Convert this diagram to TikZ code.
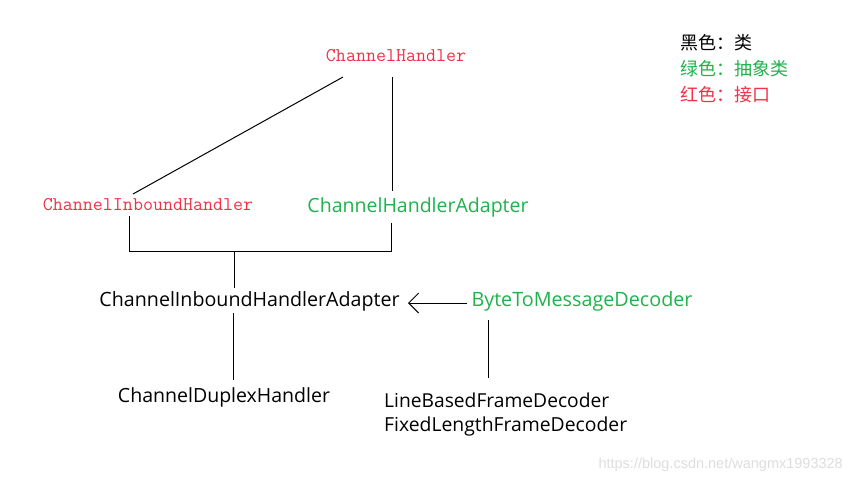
\documentclass[tikz,border=0pt]{standalone}
\usepackage{fontspec}
\usetikzlibrary{arrows.meta}
\setmainfont{Open Sans}
\setmonofont{Latin Modern Mono}
\newfontfamily\cjkfam{Noto Sans CJK SC}
\newfontfamily\wmfam{Liberation Sans}
\definecolor{cred}{RGB}{242,48,72}
\definecolor{cgreen}{RGB}{34,177,76}
\definecolor{cwm}{RGB}{222,222,222}
\newcommand{\fitw}[2]{\resizebox{#1pt}{!}{#2}}
\begin{document}
\begin{tikzpicture}[x=1pt,y=-1pt,
  lbl/.style={inner sep=0pt, anchor=center},
  mono/.style={lbl, font=\ttfamily\fontsize{18}{20}\selectfont},
  sans/.style={lbl, font=\fontsize{18}{20}\selectfont},
  cjk/.style={inner sep=0pt, anchor=west, font=\cjkfam\fontsize{18}{20}\selectfont},
  conn/.style={line width=1pt, black},
  arr/.style={conn, -{Straight Barb[length=10pt,width=20pt,line width=1pt]}}
]
\useasboundingbox[fill=white] (0,0) rectangle (853,483);

% nodes
\node[mono, text=cred] (ch) at (396,56) {\fitw{140}{ChannelHandler}};
\node[mono, text=cred] (cih) at (148,205) {\fitw{210}{ChannelInboundHandler}};
\node[sans, text=cgreen] (cha) at (418,207) {\fitw{221}{ChannelHandlerAdapter}};
\node[sans] (ciha) at (249.5,301) {\fitw{300}{ChannelInboundHandlerAdapter}};
\node[sans, text=cgreen] (btmd) at (582,301) {\fitw{221}{ByteToMessageDecoder}};
\node[sans] (cdh) at (224,397) {\fitw{212}{ChannelDuplexHandler}};
\node[sans, anchor=west] (lbfd) at (384,400) {\fitw{225}{LineBasedFrameDecoder}};
\node[sans, anchor=west] (flfd) at (384,426) {\fitw{243}{FixedLengthFrameDecoder}};

% legend
\node[cjk, text=black] (l1) at (680,43) {黑色：类};
\node[cjk, text=cgreen] (l2) at (680,69) {绿色：抽象类};
\node[cjk, text=cred] (l3) at (680,95) {红色：接口};

% watermark
\node[lbl, anchor=east, text=cwm, font=\wmfam\fontsize{14.5}{16}\selectfont] (wm) at (843,465) {https://blog.csdn.net/wangmx1993328};

% connector end points
\coordinate (chL) at (343,77);
\coordinate (chR) at (392,77);
\coordinate (cihT) at (133,194);
\coordinate (chaT) at (392,191);
\coordinate (cihB) at (129,216);
\coordinate (chaB) at (391,223);
\coordinate (jL) at (129,251);
\coordinate (jR) at (391,251);
\coordinate (jM) at (234,251);
\coordinate (cihaT) at (234,288);
\coordinate (cihaB) at (233,313);
\coordinate (cdhT) at (233,380);
\coordinate (btmdL) at (467,303);
\coordinate (cihaR) at (408,303);
\coordinate (btmdB) at (488,320);
\coordinate (lbfdT) at (488,378);

% connectors
\draw[conn] (chL) -- (cihT);
\draw[conn] (chR) -- (chaT);
\draw[conn] (cihB) -- (jL) -- (jR) -- (chaB);
\draw[conn] (jM) -- (cihaT);
\draw[conn] (cihaB) -- (cdhT);
\draw[arr] (btmdL) -- (cihaR);
\draw[conn] (btmdB) -- (lbfdT);
\end{tikzpicture}
\end{document}
